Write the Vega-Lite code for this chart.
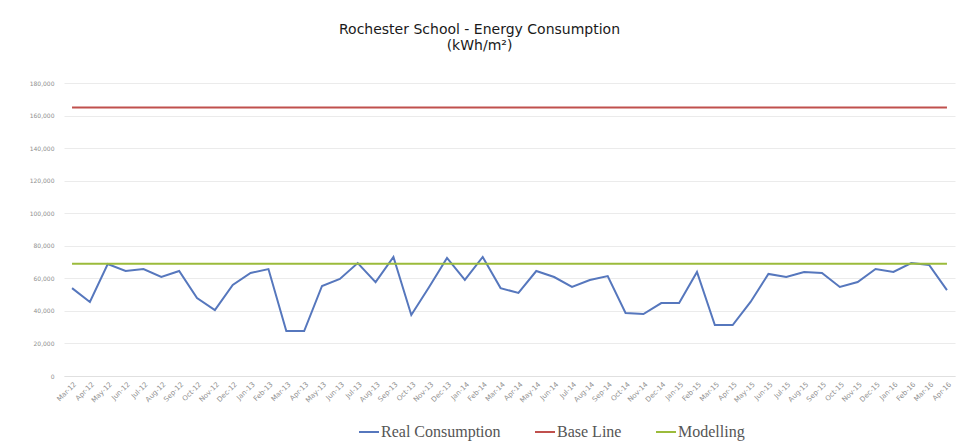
{
  "$schema": "https://vega.github.io/schema/vega-lite/v6.json",
  "width": 891,
  "height": 293,
  "autosize": {"type": "none"},
  "padding": {"left": 64, "top": 83, "right": 2, "bottom": 68},
  "background": "white",
  "title": {
    "text": ["Rochester School - Energy Consumption", "(kWh/m²)"],
    "font": "DejaVu Sans",
    "fontSize": 14,
    "fontWeight": "normal",
    "color": "#1a1a1a",
    "anchor": "middle",
    "dx": -30,
    "offset": 27,
    "lineHeight": 16
  },
  "data": {
    "values": [
      {"month": "Mar-12", "real": 54000, "base": 165000, "model": 69000},
      {"month": "Apr-12", "real": 45500, "base": 165000, "model": 69000},
      {"month": "May-12", "real": 68800, "base": 165000, "model": 69000},
      {"month": "Jun-12", "real": 64500, "base": 165000, "model": 69000},
      {"month": "Jul-12", "real": 65700, "base": 165000, "model": 69000},
      {"month": "Aug-12", "real": 60800, "base": 165000, "model": 69000},
      {"month": "Sep-12", "real": 64500, "base": 165000, "model": 69000},
      {"month": "Oct-12", "real": 47900, "base": 165000, "model": 69000},
      {"month": "Nov-12", "real": 40500, "base": 165000, "model": 69000},
      {"month": "Dec-12", "real": 55900, "base": 165000, "model": 69000},
      {"month": "Jan-13", "real": 63300, "base": 165000, "model": 69000},
      {"month": "Feb-13", "real": 65700, "base": 165000, "model": 69000},
      {"month": "Mar-13", "real": 27600, "base": 165000, "model": 69000},
      {"month": "Apr-13", "real": 27600, "base": 165000, "model": 69000},
      {"month": "May-13", "real": 55300, "base": 165000, "model": 69000},
      {"month": "Jun-13", "real": 59600, "base": 165000, "model": 69000},
      {"month": "Jul-13", "real": 69400, "base": 165000, "model": 69000},
      {"month": "Aug-13", "real": 57700, "base": 165000, "model": 69000},
      {"month": "Sep-13", "real": 73100, "base": 165000, "model": 69000},
      {"month": "Oct-13", "real": 37500, "base": 165000, "model": 69000},
      {"month": "Nov-13", "real": 54700, "base": 165000, "model": 69000},
      {"month": "Dec-13", "real": 72500, "base": 165000, "model": 69000},
      {"month": "Jan-14", "real": 59000, "base": 165000, "model": 69000},
      {"month": "Feb-14", "real": 73100, "base": 165000, "model": 69000},
      {"month": "Mar-14", "real": 54000, "base": 165000, "model": 69000},
      {"month": "Apr-14", "real": 51000, "base": 165000, "model": 69000},
      {"month": "May-14", "real": 64500, "base": 165000, "model": 69000},
      {"month": "Jun-14", "real": 60800, "base": 165000, "model": 69000},
      {"month": "Jul-14", "real": 54700, "base": 165000, "model": 69000},
      {"month": "Aug-14", "real": 59000, "base": 165000, "model": 69000},
      {"month": "Sep-14", "real": 61400, "base": 165000, "model": 69000},
      {"month": "Oct-14", "real": 38700, "base": 165000, "model": 69000},
      {"month": "Nov-14", "real": 38100, "base": 165000, "model": 69000},
      {"month": "Dec-14", "real": 44800, "base": 165000, "model": 69000},
      {"month": "Jan-15", "real": 44800, "base": 165000, "model": 69000},
      {"month": "Feb-15", "real": 63900, "base": 165000, "model": 69000},
      {"month": "Mar-15", "real": 31300, "base": 165000, "model": 69000},
      {"month": "Apr-15", "real": 31300, "base": 165000, "model": 69000},
      {"month": "May-15", "real": 45500, "base": 165000, "model": 69000},
      {"month": "Jun-15", "real": 62700, "base": 165000, "model": 69000},
      {"month": "Jul-15", "real": 60800, "base": 165000, "model": 69000},
      {"month": "Aug-15", "real": 63900, "base": 165000, "model": 69000},
      {"month": "Sep-15", "real": 63300, "base": 165000, "model": 69000},
      {"month": "Oct-15", "real": 54700, "base": 165000, "model": 69000},
      {"month": "Nov-15", "real": 57700, "base": 165000, "model": 69000},
      {"month": "Dec-15", "real": 65700, "base": 165000, "model": 69000},
      {"month": "Jan-16", "real": 63900, "base": 165000, "model": 69000},
      {"month": "Feb-16", "real": 69400, "base": 165000, "model": 69000},
      {"month": "Mar-16", "real": 68200, "base": 165000, "model": 69000},
      {"month": "Apr-16", "real": 52800, "base": 165000, "model": 69000}
    ]
  },
  "transform": [
    {"fold": ["real", "base", "model"], "as": ["series", "value"]}
  ],
  "mark": {"type": "line", "strokeWidth": 2},
  "encoding": {
    "x": {
      "field": "month",
      "type": "ordinal",
      "sort": null,
      "scale": {"type": "point", "padding": 0.45},
      "axis": {
        "title": null,
        "labelAngle": -45,
        "labelFontSize": 7,
        "labelColor": "#8f8f8f",
        "labelFont": "DejaVu Sans",
        "ticks": false,
        "domain": true,
        "domainColor": "#e0e0e0",
        "labelPadding": 4,
        "grid": false
      }
    },
    "y": {
      "field": "value",
      "type": "quantitative",
      "scale": {"domain": [0, 180000]},
      "axis": {
        "title": null,
        "values": [0, 20000, 40000, 60000, 80000, 100000, 120000, 140000, 160000, 180000],
        "format": ",d",
        "labelFontSize": 6,
        "labelColor": "#8f8f8f",
        "labelFont": "DejaVu Sans",
        "ticks": false,
        "domain": false,
        "gridColor": "#ebebeb",
        "labelPadding": 10
      }
    },
    "color": {
      "field": "series",
      "type": "nominal",
      "scale": {"domain": ["real", "base", "model"], "range": ["#5677bd", "#c0504d", "#9bbb3b"]},
      "legend": {
        "title": null,
        "orient": "none",
        "legendX": 294,
        "legendY": 338,
        "direction": "horizontal",
        "symbolType": "stroke",
        "symbolSize": 400,
        "symbolStrokeWidth": 2,
        "labelFont": "Liberation Serif",
        "labelFontSize": 16,
        "labelColor": "#555555",
        "columnPadding": 30,
        "labelOffset": 1,
        "labelExpr": "datum.value == 'real' ? 'Real Consumption' : datum.value == 'base' ? 'Base Line' : 'Modelling'"
      }
    }
  },
  "config": {
    "view": {"stroke": null}
  }
}
